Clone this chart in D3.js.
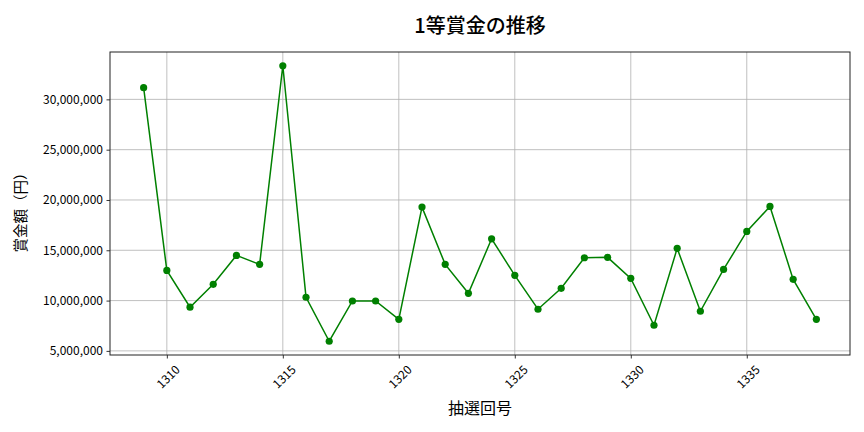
<!DOCTYPE html>
<html><head><meta charset="utf-8">
<script src="https://cdn.jsdelivr.net/npm/d3@7"></script>
<style>body{margin:0;background:#fff;} svg{display:block;font-family:"Noto Sans CJK JP","Noto Sans",sans-serif;}</style>
</head><body>
<svg id="c" width="864" height="432"></svg>
<script>
const draws = [1309,1310,1311,1312,1313,1314,1315,1316,1317,1318,1319,1320,1321,1322,1323,1324,1325,1326,1327,1328,1329,1330,1331,1332,1333,1334,1335,1336,1337,1338];
const prizes = [31160000,13000000,9340000,11620000,14490000,13600000,33340000,10330000,5960000,9960000,9960000,8140000,19290000,13600000,10720000,16140000,12510000,9140000,11220000,14260000,14300000,12210000,7550000,15190000,8940000,13100000,16870000,19360000,12110000,8140000];
const xTicks = [1310,1315,1320,1325,1330,1335];
const yTicks = [5000000,10000000,15000000,20000000,25000000,30000000];
const title = "1等賞金の推移", xLabel = "抽選回号", yLabel = "賞金額（円）";

const svg = d3.select("#c");
const FF = '"Noto Sans CJK JP","Noto Sans",sans-serif';
const L=110, R=850, T=52, B=355;
const xmin=d3.min(draws), xmax=d3.max(draws), xr=xmax-xmin;
const ymin=d3.min(prizes), ymax=d3.max(prizes), yr=ymax-ymin;
const x=d3.scaleLinear().domain([xmin-0.05*xr,xmax+0.05*xr]).range([L,R]);
const y=d3.scaleLinear().domain([ymin-0.05*yr,ymax+0.05*yr]).range([B,T]);

const g=svg.append("g");
g.selectAll(".gx").data(xTicks).join("line").attr("x1",d=>x(d)).attr("x2",d=>x(d)).attr("y1",T).attr("y2",B).attr("stroke","#b0b0b0").attr("stroke-width",0.8);
g.selectAll(".gy").data(yTicks).join("line").attr("y1",d=>y(d)).attr("y2",d=>y(d)).attr("x1",L).attr("x2",R).attr("stroke","#b0b0b0").attr("stroke-width",0.8);

const xa=svg.append("g").attr("transform",`translate(0,${B})`).call(d3.axisBottom(x).tickValues(xTicks).tickSize(3.5).tickFormat(d3.format("d")));
xa.attr("font-family",FF);
xa.select(".domain").remove();
xa.selectAll("text").attr("font-size",12).attr("fill","#000").attr("text-anchor","middle")
  .attr("dy",null).attr("y",null).attr("dominant-baseline","central")
  .attr("transform","translate(0,21) rotate(-45)");
const ya=svg.append("g").attr("transform",`translate(${L},0)`).call(d3.axisLeft(y).tickValues(yTicks).tickSize(3.5).tickFormat(d3.format(",")));
ya.attr("font-family",FF);
ya.select(".domain").remove();
ya.selectAll("text").attr("font-size",12).attr("fill","#000").attr("x",-7);
svg.selectAll(".tick line").attr("stroke","#000").attr("stroke-width",0.8);

svg.append("rect").attr("x",L).attr("y",T).attr("width",R-L).attr("height",B-T).attr("fill","none").attr("stroke","#222").attr("stroke-width",1);

const line=d3.line().x((d,i)=>x(draws[i])).y(d=>y(d));
svg.append("path").datum(prizes).attr("d",line).attr("fill","none").attr("stroke","green").attr("stroke-width",1.5);
svg.selectAll(".pt").data(prizes).join("circle").attr("cx",(d,i)=>x(draws[i])).attr("cy",d=>y(d)).attr("r",3.6).attr("fill","green");

svg.append("text").attr("x",480).attr("y",33).attr("text-anchor","middle").attr("font-size",20).attr("font-weight",500).text(title);
svg.append("text").attr("x",480).attr("y",414).attr("text-anchor","middle").attr("font-size",16).text(xLabel);
svg.append("text").attr("transform","translate(26,209) rotate(-90)").attr("text-anchor","middle").attr("font-size",14.5).text(yLabel);
</script>
</body></html>
